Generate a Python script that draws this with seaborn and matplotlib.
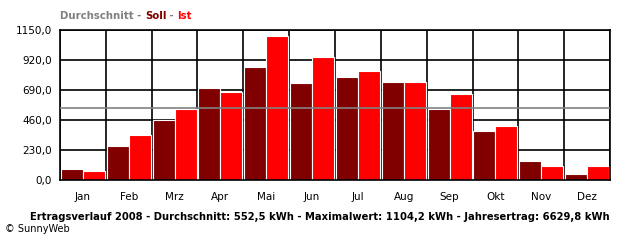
import numpy as np
import pandas as pd
import matplotlib
matplotlib.use('Agg')
import matplotlib.pyplot as plt
import seaborn as sns

# data (kWh per month)
months = ['Jan', 'Feb', 'Mrz', 'Apr', 'Mai', 'Jun', 'Jul', 'Aug', 'Sep', 'Okt', 'Nov', 'Dez']
soll = [84, 263, 460, 705, 869, 746, 790, 754, 544, 376, 146, 46]
ist = [69, 347, 545, 677, 1104.2, 943, 836, 751, 659, 416, 107, 107]
average = 552.5
yticks = [0, 230, 460, 690, 920, 1150]
ytick_labels = ['0,0', '230,0', '460,0', '690,0', '920,0', '1150,0']

df = pd.DataFrame({
    'Monat': months * 2,
    'Wert': soll + ist,
    'Serie': ['Soll'] * 12 + ['Ist'] * 12,
})

sns.set_style('white')
plt.rcParams['font.family'] = ['DejaVu Sans']
plt.rcParams['text.color'] = 'black'
plt.rcParams['xtick.color'] = 'black'
plt.rcParams['ytick.color'] = 'black'

fig = plt.figure(figsize=(6.4, 2.4), dpi=100)
ax = fig.add_axes([60 / 640, 60 / 240, 550 / 640, 150 / 240])

# grid first so the bars sit on top
for y in yticks:
    ax.axhline(y, color='black', lw=1.2, zorder=0)
for x in np.arange(-0.5, 12, 1):
    ax.axvline(x, color='black', lw=1.2, zorder=0)

sns.barplot(data=df, x='Monat', y='Wert', hue='Serie', order=months,
            palette={'Soll': '#800000', 'Ist': '#ff0000'}, saturation=1,
            width=0.96, edgecolor='white', linewidth=0.8, legend=False,
            ax=ax, zorder=2)

ax.axhline(average, color='#808080', lw=1.2, zorder=3)

ax.set_xlim(-0.5, 11.5)
ax.set_ylim(0, 1150)
ax.set_yticks(yticks)
ax.set_yticklabels(ytick_labels)
ax.set_xticks(np.arange(-0.5, 12, 1))
ax.set_xticklabels([])
ax.set_xticks(range(12), minor=True)
ax.set_xticklabels(months, minor=True)
ax.tick_params(axis='x', which='major', length=5, width=1.2, color='black', direction='out')
ax.tick_params(axis='x', which='minor', length=0, pad=9, labelsize=7.5)
ax.tick_params(axis='y', length=4, width=1.2, labelsize=7.5, pad=2)
ax.set_xlabel('')
ax.set_ylabel('')
for s in ax.spines.values():
    s.set_color('black')
    s.set_linewidth(1.2)

# coloured header, pieces placed one after the other
renderer = fig.canvas.get_renderer()
x = 60 / 640
for part, col in [('Durchschnitt - ', '#808080'), ('Soll', '#800000'),
                  (' - ', '#808080'), ('Ist', '#ff0000')]:
    t = fig.text(x, 1 - 16 / 240, part, color=col, fontsize=7.3, fontweight='bold', va='center')
    bb = t.get_window_extent(renderer)
    x = bb.x1 / fig.bbox.width

fig.text(320 / 640, 1 - 217 / 240,
         'Ertragsverlauf 2008 - Durchschnitt: 552,5 kWh - Maximalwert: 1104,2 kWh - Jahresertrag: 6629,8 kWh',
         ha='center', va='center', fontsize=7.2, fontweight='bold')
fig.text(5 / 640, 1 - 229 / 240, '© SunnyWeb', ha='left', va='center', fontsize=7)

fig.savefig('out.png', dpi=100)
